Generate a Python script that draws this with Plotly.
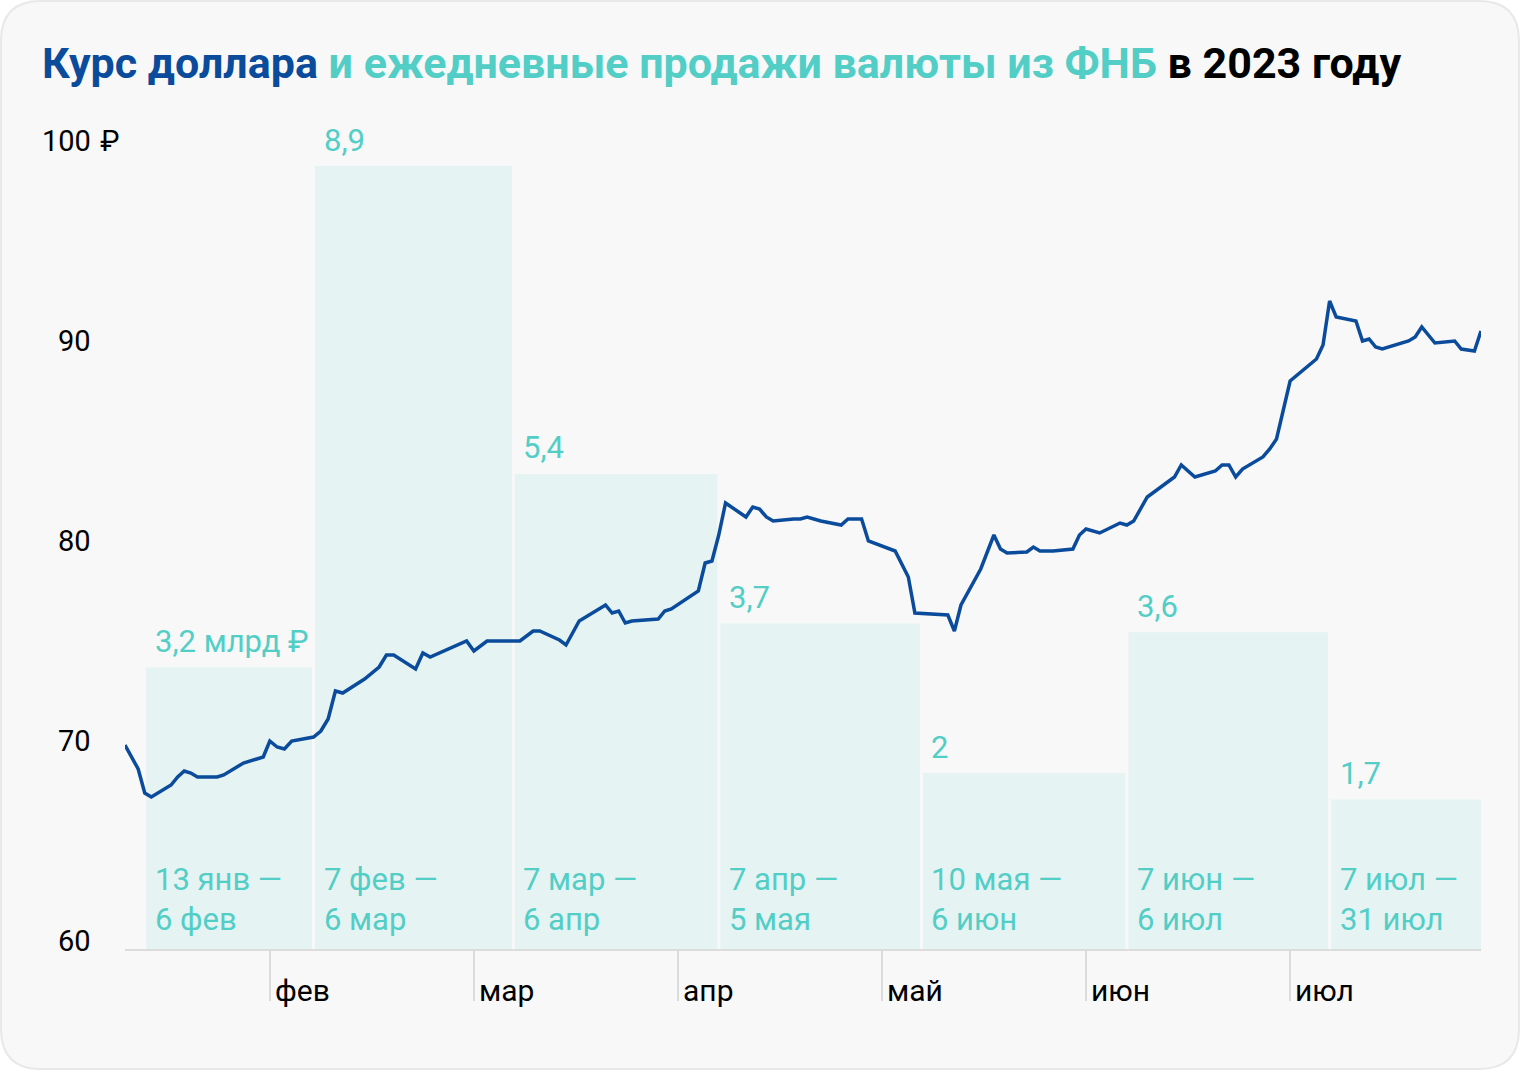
import calendar
import plotly.graph_objects as go

# ---------------- data ----------------
rate_dates = [
    "2023-01-10", "2023-01-12", "2023-01-13", "2023-01-14", "2023-01-17", "2023-01-18",
    "2023-01-19", "2023-01-20", "2023-01-21", "2023-01-24", "2023-01-25", "2023-01-28",
    "2023-01-31", "2023-02-01", "2023-02-02", "2023-02-03", "2023-02-04", "2023-02-07",
    "2023-02-08", "2023-02-09", "2023-02-10", "2023-02-11", "2023-02-14", "2023-02-15",
    "2023-02-16", "2023-02-17", "2023-02-18", "2023-02-21", "2023-02-22", "2023-02-23",
    "2023-02-28", "2023-03-01", "2023-03-03", "2023-03-08", "2023-03-10", "2023-03-11",
    "2023-03-14", "2023-03-15", "2023-03-17", "2023-03-21", "2023-03-22", "2023-03-23",
    "2023-03-24", "2023-03-25", "2023-03-29", "2023-03-30", "2023-03-31", "2023-04-04",
    "2023-04-05", "2023-04-06", "2023-04-07", "2023-04-08", "2023-04-11", "2023-04-12",
    "2023-04-13", "2023-04-14", "2023-04-15", "2023-04-18", "2023-04-19", "2023-04-20",
    "2023-04-21", "2023-04-22", "2023-04-25", "2023-04-26", "2023-04-27", "2023-04-28",
    "2023-04-29", "2023-05-03", "2023-05-05", "2023-05-06", "2023-05-11", "2023-05-12",
    "2023-05-13", "2023-05-16", "2023-05-18", "2023-05-19", "2023-05-20", "2023-05-23",
    "2023-05-24", "2023-05-25", "2023-05-27", "2023-05-30", "2023-05-31", "2023-06-01",
    "2023-06-03", "2023-06-06", "2023-06-07", "2023-06-08", "2023-06-10", "2023-06-14",
    "2023-06-15", "2023-06-17", "2023-06-20", "2023-06-21", "2023-06-22", "2023-06-23",
    "2023-06-24", "2023-06-27", "2023-06-28", "2023-06-29", "2023-07-01", "2023-07-04",
    "2023-07-05", "2023-07-06", "2023-07-07", "2023-07-08", "2023-07-11", "2023-07-12",
    "2023-07-13", "2023-07-14", "2023-07-15", "2023-07-19", "2023-07-20", "2023-07-21",
    "2023-07-22", "2023-07-23", "2023-07-26", "2023-07-27", "2023-07-29", "2023-07-30",
]
rate_values = [
    70.2, 69.0, 67.8, 67.6, 68.2, 68.6,
    68.9, 68.8, 68.6, 68.6, 68.7, 69.3,
    69.6, 70.4, 70.1, 70.0, 70.4, 70.6,
    70.9, 71.5, 72.9, 72.8, 73.5, 73.8,
    74.1, 74.7, 74.7, 74.0, 74.8, 74.6,
    75.4, 74.9, 75.4, 75.4, 75.9, 75.9,
    75.45, 75.2, 76.4, 77.2, 76.8, 76.9,
    76.3, 76.4, 76.5, 76.9, 77.0, 77.9,
    79.3, 79.4, 80.7, 82.3, 81.6, 82.1,
    82.0, 81.6, 81.4, 81.5, 81.5, 81.6,
    81.5, 81.4, 81.2, 81.5, 81.5, 81.5,
    80.4, 79.9, 78.6, 76.8, 76.7, 75.9,
    77.2, 79.0, 80.7, 80.0, 79.8, 79.85,
    80.1, 79.9, 79.9, 80.0, 80.7, 81.0,
    80.8, 81.3, 81.2, 81.4, 82.6, 83.6,
    84.2, 83.6, 83.9, 84.2, 84.2, 83.6,
    84.0, 84.6, 85.0, 85.5, 88.4, 89.2,
    89.5, 90.2, 92.4, 91.6, 91.4, 90.4,
    90.5, 90.1, 90.0, 90.4, 90.6, 91.1,
    90.7, 90.3, 90.4, 90.0, 89.9, 90.9,
]

# FNB daily sales, bln rub, per period (bars are contiguous between edges)
bar_edges = ["2023-01-13", "2023-02-07", "2023-03-07", "2023-04-07",
             "2023-05-07", "2023-06-07", "2023-07-07", "2023-08-01"]
sales = [3.2, 8.9, 5.4, 3.7, 2.0, 3.6, 1.7]
sales_labels = ["3,2 млрд ₽", "8,9", "5,4", "3,7", "2", "3,6", "1,7"]
period_labels = ["13 янв —<br>6 фев", "7 фев —<br>6 мар", "7 мар —<br>6 апр",
                 "7 апр —<br>5 мая", "10 мая —<br>6 июн", "7 июн —<br>6 июл",
                 "7 июл —<br>31 июл"]

month_tick_dates = ["2023-02-01", "2023-03-01", "2023-04-01",
                    "2023-05-01", "2023-06-01", "2023-07-01"]
month_tick_labels = ["фев", "мар", "апр", "май", "июн", "июл"]

y_tick_values = [60, 70, 80, 90, 100]
y_tick_labels = ["60", "70", "80", "90", "100"]
y_currency = " ₽"

# ---------------- style ----------------
BLUE = "#0b4b9c"
TEAL = "#52cec6"
BAR = "#e6f3f3"
CARD = "#f8f8f8"
FONT = "Roboto"
FS = 29       # black tick labels
FS_T = 31     # teal labels

W, H = 1520, 1070
ML, MR, MT, MB = 125, 39, 149, 121
PW, PH = W - ML - MR, H - MT - MB
BAR_GAP = 3 / 204  # ~3 px gap between adjacent bars (in month units)


def mpos(s):
    """position on axis: months equally spaced, days linear within month"""
    y, m, d = map(int, s.split("-"))
    nd = calendar.monthrange(y, m)[1]
    return (m - 1) + (d - 1) / nd


rx = [mpos(d) for d in rate_dates]
bx = [mpos(d) for d in bar_edges]
x_range = [rx[0], rx[-1]]

fig = go.Figure()

fig.add_trace(go.Bar(
    x=[b + BAR_GAP / 2 for b in bx[:-1]],
    y=sales,
    width=[bx[i + 1] - bx[i] - BAR_GAP for i in range(len(sales))],
    offset=0,
    base=0,
    marker=dict(color=BAR, line=dict(width=0)),
    yaxis="y",
    hoverinfo="skip",
    showlegend=False,
))

fig.add_trace(go.Scatter(
    x=rx, y=rate_values, mode="lines",
    line=dict(color=BLUE, width=3.5),
    yaxis="y2",
    showlegend=False,
))

annotations = []
# sales value labels
for i, (v, t) in enumerate(zip(sales, sales_labels)):
    annotations.append(dict(
        x=bx[i], y=v, xref="x", yref="y", text=t, showarrow=False,
        xanchor="left", yanchor="middle", xshift=8, yshift=26,
        font=dict(family=FONT, size=FS_T, color=TEAL),
    ))
# period labels inside bars
for i, t in enumerate(period_labels):
    annotations.append(dict(
        x=bx[i], y=0, xref="x", yref="y", text=t, showarrow=False,
        xanchor="left", yanchor="bottom", align="left", xshift=8, yshift=9,
        font=dict(family=FONT, size=FS_T, color=TEAL),
    ))
# month labels (to the right of the tick)
for d, t in zip(month_tick_dates, month_tick_labels):
    annotations.append(dict(
        x=mpos(d), y=0, xref="x", yref="paper", text=t, showarrow=False,
        xanchor="left", yanchor="middle", xshift=3, yshift=-41,
        font=dict(family=FONT, size=FS + 1, color="#000000"),
    ))
# y labels
ylab_x = (93 - ML) / PW
for v, t in zip(y_tick_values, y_tick_labels):
    annotations.append(dict(
        x=ylab_x, y=v, xref="paper", yref="y2", text=t, showarrow=False,
        xanchor="right", yanchor="middle", yshift=8,
        font=dict(family=FONT, size=FS, color="#000000"),
    ))
annotations.append(dict(
    x=ylab_x, y=y_tick_values[-1], xref="paper", yref="y2", text=y_currency,
    showarrow=False, xanchor="left", yanchor="middle", yshift=8, xshift=-2,
    font=dict(family=FONT, size=FS, color="#000000"),
))


# rounded card behind everything
def px2paper(px, py):
    return (px - ML) / PW, (H - MB - py) / PH


def P(px, py):
    a, b = px2paper(px, py)
    return f"{a:.5f},{b:.5f}"


r = 40
x0, y0, x1, y1 = 1, 1, W - 1, H - 1
path = (f"M {P(x0 + r, y0)} L {P(x1 - r, y0)} Q {P(x1, y0)} {P(x1, y0 + r)} "
        f"L {P(x1, y1 - r)} Q {P(x1, y1)} {P(x1 - r, y1)} "
        f"L {P(x0 + r, y1)} Q {P(x0, y1)} {P(x0, y1 - r)} "
        f"L {P(x0, y0 + r)} Q {P(x0, y0)} {P(x0 + r, y0)} Z")

fig.update_layout(
    width=W, height=H,
    margin=dict(l=ML, r=MR, t=MT, b=MB, pad=0),
    paper_bgcolor="#ffffff",
    plot_bgcolor="rgba(0,0,0,0)",
    barmode="overlay",
    showlegend=False,
    font=dict(family=FONT, size=FS, color="#000000"),
    title=dict(
        text=(f"<b><span style='color:{BLUE}'>Курс доллара</span>"
              f"<span style='color:{TEAL}'> и ежедневные продажи валюты из ФНБ</span>"
              f"<span style='color:#000000'> в 2023 году</span></b>"),
        x=42 / W, xanchor="left", xref="container",
        y=1 - 63 / H, yanchor="middle", yref="container",
        font=dict(family=FONT, size=43),
    ),
    xaxis=dict(
        range=x_range, showgrid=False, zeroline=False,
        showline=True, linecolor="#dcdcdc", linewidth=2,
        tickvals=[mpos(d) for d in month_tick_dates],
        ticks="outside", ticklen=50, tickwidth=2, tickcolor="#dcdcdc",
        showticklabels=False, fixedrange=True,
    ),
    yaxis=dict(
        range=[0, sales[1] * PH / (H - MB - 166)],
        visible=False, fixedrange=True,
    ),
    yaxis2=dict(
        range=[y_tick_values[0], y_tick_values[-1]], overlaying="y",
        visible=False, fixedrange=True,
    ),
    annotations=annotations,
    shapes=[dict(type="path", path=path, xref="paper", yref="paper",
                 fillcolor=CARD, line=dict(color="#e8e8e8", width=2),
                 layer="below")],
)

fig.write_html("out.html", config={"displayModeBar": False},
               post_script="document.body.style.margin='0';document.body.style.padding='0';")
